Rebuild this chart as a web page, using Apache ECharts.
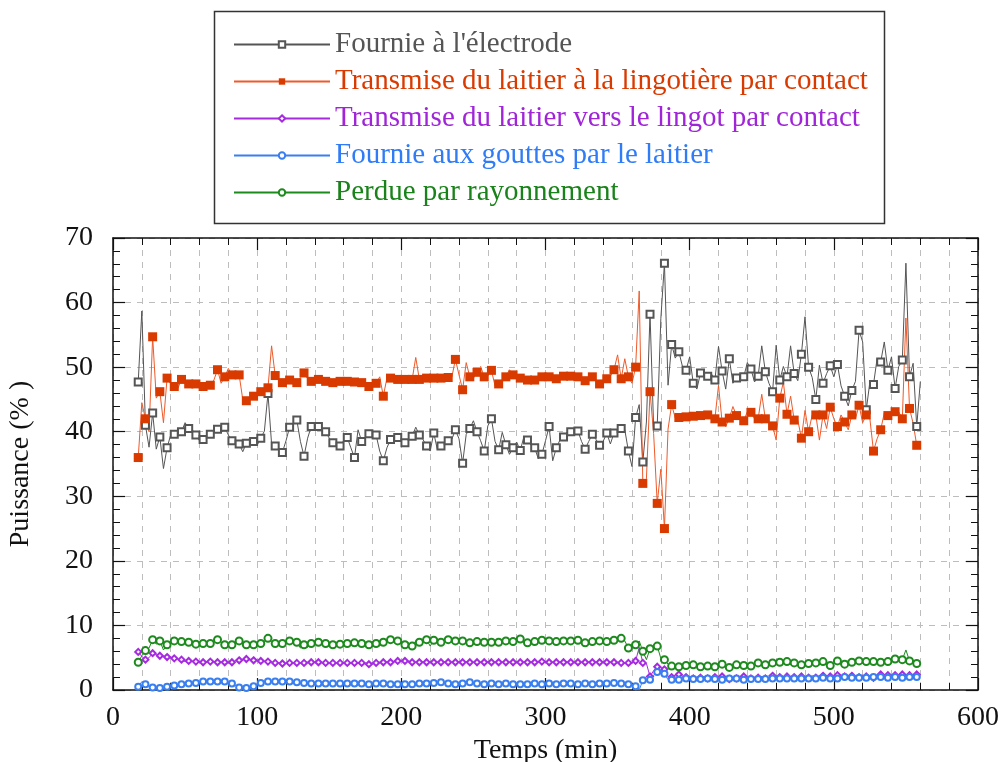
<!DOCTYPE html>
<html>
<head>
<meta charset="utf-8">
<script src="https://cdn.jsdelivr.net/npm/echarts@6/dist/echarts.min.js"></script>
<style>
  html, body { margin: 0; padding: 0; background: #fff; }
  #chart { width: 1006px; height: 762px; }
</style>
</head>
<body>
<div id="chart"></div>
<script>
// sampling instants (min), one every 2.5 min from 17.5 to 560
const T0 = 17.5, DT = 2.5, NPTS = 218;
const temps = [];
for (let i = 0; i < NPTS; i++) temps.push(T0 + DT * i);

const noms = [
  "Fournie à l'électrode",
  'Transmise du laitier à la lingotière par contact',
  'Transmise du laitier vers le lingot par contact',
  'Fournie aux gouttes par le laitier',
  'Perdue par rayonnement'
];

// Puissance (%)
const electrode = [
  47.7, 58.7, 41.0, 37.6, 42.9, 37.3, 39.2, 34.3, 37.5, 39.5,
  39.6, 39.4, 40.0, 41.4, 40.5, 40.3, 39.5, 38.6, 38.8, 39.0,
  39.6, 40.2, 40.4, 39.8, 40.7, 39.5, 38.6, 38.8, 38.1, 36.9,
  38.2, 39.1, 38.5, 37.9, 39.0, 40.1, 45.9, 38.1, 37.8, 37.3,
  36.8, 38.6, 40.7, 41.3, 41.8, 38.5, 36.2, 39.0, 40.8, 40.5,
  40.8, 40.2, 40.0, 39.0, 38.3, 38.0, 37.8, 38.6, 39.1, 37.5,
  36.0, 40.3, 38.5, 39.2, 39.7, 40.0, 39.5, 37.0, 35.5, 37.5,
  38.8, 38.5, 39.1, 38.8, 38.3, 38.8, 39.3, 40.7, 39.5, 38.8,
  37.8, 37.0, 39.8, 37.2, 37.8, 38.2, 38.6, 38.8, 40.3, 38.9,
  35.1, 39.6, 40.5, 41.7, 40.0, 38.6, 37.0, 40.9, 42.0, 38.5,
  37.2, 39.9, 38.0, 36.5, 37.5, 38.4, 37.1, 39.2, 38.7, 37.9,
  37.5, 35.8, 36.5, 38.6, 40.8, 35.5, 37.5, 38.7, 39.2, 40.0,
  40.0, 39.5, 40.1, 38.5, 37.3, 38.5, 39.6, 38.8, 37.9, 38.5,
  39.8, 38.1, 39.8, 40.0, 40.5, 40.3, 37.0, 34.6, 42.2, 44.2,
  35.3, 41.5, 58.2, 40.7, 40.9, 57.5, 66.1, 47.2, 53.5, 51.4,
  52.4, 50.1, 49.5, 51.6, 47.5, 46.6, 49.1, 48.6, 48.6, 49.0,
  48.0, 53.2, 49.4, 46.6, 51.3, 47.5, 48.3, 49.0, 48.5, 50.7,
  49.7, 47.7, 48.6, 53.3, 49.3, 47.5, 46.2, 53.4, 48.0, 50.1,
  48.5, 53.3, 49.0, 47.9, 52.0, 57.8, 50.0, 48.4, 45.0, 50.3,
  47.5, 49.0, 50.2, 48.5, 50.4, 47.1, 45.5, 44.0, 46.4, 47.8,
  55.7, 53.9, 43.4, 47.7, 47.3, 51.3, 50.8, 53.9, 49.5, 51.6,
  46.7, 50.1, 51.1, 66.1, 48.5, 50.6, 40.8, 47.8
];

const lingotiere = [
  36.0, 44.5, 42.0, 40.0, 54.7, 45.2, 46.2, 41.4, 48.3, 47.4,
  47.0, 46.7, 48.1, 47.8, 47.4, 47.2, 47.4, 47.0, 47.0, 47.2,
  47.2, 48.0, 49.6, 47.5, 48.5, 49.8, 48.8, 48.8, 48.8, 45.0,
  44.8, 45.2, 45.5, 45.8, 46.2, 46.5, 46.8, 53.3, 48.7, 48.0,
  47.6, 47.8, 48.0, 47.8, 47.6, 48.4, 49.1, 48.2, 47.8, 48.0,
  48.1, 47.9, 47.8, 47.7, 47.6, 47.8, 47.8, 47.8, 47.8, 47.7,
  47.7, 47.6, 47.6, 47.5, 47.0, 46.9, 47.5, 48.5, 45.5, 48.3,
  48.3, 48.2, 48.1, 48.1, 48.1, 48.1, 48.1, 51.5, 48.1, 48.1,
  48.3, 48.5, 48.3, 48.1, 48.3, 48.5, 48.4, 48.4, 51.2, 48.8,
  46.5, 50.7, 48.5, 48.3, 49.2, 50.1, 48.5, 48.7, 49.5, 47.1,
  47.4, 47.7, 48.5, 49.6, 48.8, 48.1, 48.3, 48.5, 48.0, 47.7,
  48.0, 48.5, 48.5, 48.5, 48.5, 48.3, 48.2, 48.4, 48.6, 48.6,
  48.6, 48.5, 48.5, 48.2, 47.9, 48.2, 48.5, 48.0, 47.4, 47.8,
  48.2, 48.6, 49.6, 51.9, 48.2, 51.3, 48.5, 47.5, 50.0, 61.8,
  32.0, 32.7, 46.2, 39.7, 28.9, 34.2, 25.0, 40.4, 44.2, 42.1,
  42.2, 41.8, 42.3, 42.0, 42.4, 41.9, 42.5, 42.2, 42.6, 42.0,
  42.0, 47.2, 41.5, 40.8, 42.1, 43.9, 42.5, 41.9, 41.7, 43.1,
  43.0, 42.0, 42.0, 45.8, 42.0, 41.5, 40.9, 38.7, 45.2, 47.7,
  42.7, 45.5, 41.8, 41.8, 39.0, 43.3, 40.0, 42.6, 42.6, 38.7,
  42.6, 40.5, 43.8, 42.0, 40.8, 42.6, 41.5, 40.3, 42.6, 42.0,
  44.1, 41.4, 42.6, 42.0, 37.0, 38.9, 40.3, 42.9, 42.5, 43.1,
  43.1, 43.1, 42.0, 57.6, 43.6, 41.3, 37.9, 37.9
];

const lingot = [
  5.9, 5.2, 4.7, 5.0, 5.7, 5.5, 5.3, 5.2, 5.1, 5.1,
  4.9, 4.8, 4.7, 4.4, 4.5, 4.4, 4.4, 4.4, 4.3, 4.4,
  4.4, 4.4, 4.3, 4.3, 4.3, 4.2, 4.3, 4.5, 4.6, 4.7,
  4.8, 4.7, 4.6, 4.6, 4.5, 4.4, 4.4, 4.3, 4.2, 4.2,
  4.1, 4.1, 4.2, 4.2, 4.2, 4.2, 4.2, 4.3, 4.3, 4.3,
  4.3, 4.3, 4.2, 4.2, 4.2, 4.2, 4.2, 4.2, 4.2, 4.2,
  4.2, 4.2, 4.2, 4.2, 4.0, 4.2, 4.2, 4.3, 4.3, 4.3,
  4.3, 4.4, 4.5, 4.6, 4.5, 4.4, 4.3, 4.3, 4.3, 4.3,
  4.3, 4.3, 4.3, 4.3, 4.3, 4.4, 4.3, 4.3, 4.3, 4.3,
  4.3, 4.4, 4.3, 4.3, 4.3, 4.3, 4.3, 4.4, 4.3, 4.3,
  4.3, 4.3, 4.3, 4.3, 4.3, 4.3, 4.3, 4.3, 4.3, 4.3,
  4.3, 4.3, 4.4, 4.3, 4.3, 4.3, 4.3, 4.3, 4.3, 4.3,
  4.3, 4.3, 4.3, 4.3, 4.3, 4.3, 4.3, 4.3, 4.3, 4.3,
  4.3, 4.3, 4.3, 4.3, 4.2, 4.2, 4.2, 4.2, 4.5, 6.6,
  4.2, 4.1, 2.1, 3.0, 3.6, 3.5, 3.2, 2.1, 2.0, 2.3,
  2.4, 2.2, 2.0, 2.1, 1.8, 2.0, 1.9, 2.1, 1.8, 1.9,
  2.0, 1.8, 2.1, 1.9, 1.7, 2.0, 1.8, 2.0, 2.1, 1.9,
  1.8, 2.0, 1.9, 2.1, 1.8, 1.9, 2.2, 1.9, 2.0, 1.8,
  2.1, 1.9, 2.0, 1.8, 2.1, 2.0, 1.9, 2.2, 1.9, 2.0,
  2.2, 1.9, 2.1, 2.0, 2.3, 1.9, 2.1, 2.0, 2.2, 2.1,
  2.0, 2.3, 2.1, 2.2, 1.9, 2.2, 2.4, 2.1, 2.3, 2.2,
  2.3, 2.1, 2.4, 2.2, 2.3, 2.1, 2.4, 2.1
];

const gouttes = [
  0.5, 1.3, 0.9, 0.6, 0.4, 0.3, 0.3, 0.3, 0.5, 0.6,
  0.7, 0.8, 0.9, 0.9, 1.0, 1.0, 1.1, 1.2, 1.3, 1.3,
  1.3, 1.3, 1.3, 1.3, 1.3, 1.2, 1.0, 0.7, 0.4, 0.4,
  0.3, 0.3, 0.6, 0.8, 1.1, 1.3, 1.3, 1.3, 1.3, 1.3,
  1.3, 1.3, 1.3, 1.2, 1.2, 1.1, 1.1, 1.0, 1.0, 1.0,
  1.0, 1.0, 1.0, 1.0, 1.0, 1.1, 1.0, 1.0, 1.0, 1.0,
  1.0, 1.0, 1.0, 0.9, 0.9, 1.0, 1.0, 1.0, 1.0, 0.9,
  0.9, 0.8, 0.9, 1.0, 0.9, 0.9, 0.9, 1.0, 1.0, 1.0,
  1.0, 1.0, 1.1, 1.2, 1.2, 1.1, 1.0, 1.0, 0.9, 1.0,
  1.0, 1.1, 1.2, 1.1, 1.0, 1.0, 0.9, 0.9, 1.0, 1.0,
  0.9, 0.9, 1.0, 1.0, 0.9, 0.8, 0.9, 0.9, 0.9, 1.0,
  1.0, 1.0, 0.9, 0.9, 1.0, 1.0, 0.9, 0.9, 1.0, 1.0,
  1.0, 1.0, 0.9, 0.9, 1.0, 1.0, 0.9, 1.0, 1.0, 1.0,
  1.0, 1.1, 1.1, 1.0, 1.0, 1.0, 0.9, 0.8, 0.6, 0.0,
  1.5, 2.1, 1.6, 2.3, 2.8, 3.6, 2.5, 1.6, 1.6, 1.7,
  1.6, 1.7, 1.8, 1.6, 1.7, 1.8, 1.7, 1.6, 1.8, 1.7,
  1.7, 1.8, 1.6, 1.7, 1.8, 1.7, 1.8, 1.7, 1.6, 1.8,
  1.7, 1.8, 1.7, 1.8, 1.7, 1.9, 1.8, 1.7, 1.8, 1.8,
  1.8, 1.7, 1.8, 1.9, 1.8, 1.7, 1.8, 1.9, 1.8, 1.8,
  1.9, 1.8, 1.8, 1.9, 1.8, 1.9, 2.0, 1.8, 1.9, 1.9,
  1.9, 2.0, 1.9, 1.8, 2.0, 1.9, 2.0, 2.1, 1.9, 2.0,
  2.0, 2.1, 1.9, 2.2, 2.0, 2.1, 2.0, 1.9
];

const rayonnement = [
  4.3, 5.3, 6.1, 6.5, 7.8, 7.1, 7.6, 6.2, 7.0, 7.6,
  7.6, 7.5, 7.5, 7.7, 7.4, 7.0, 7.1, 7.2, 7.2, 7.3,
  7.2, 7.5, 7.8, 7.4, 7.0, 6.9, 7.0, 7.3, 7.6, 7.2,
  7.0, 7.0, 7.0, 7.1, 7.2, 7.5, 8.0, 7.4, 7.2, 7.2,
  7.2, 7.4, 7.6, 7.7, 7.4, 6.5, 7.0, 6.6, 7.2, 7.6,
  7.4, 7.2, 7.2, 7.2, 7.0, 7.0, 7.1, 7.3, 7.2, 7.2,
  7.3, 7.4, 7.2, 7.2, 7.0, 7.5, 7.2, 6.8, 7.4, 7.5,
  7.8, 7.4, 7.6, 7.5, 7.0, 7.3, 6.8, 7.6, 7.4, 7.6,
  7.8, 6.8, 7.7, 7.4, 7.4, 7.6, 7.8, 7.4, 7.6, 7.4,
  7.6, 7.4, 7.3, 7.4, 7.5, 7.3, 7.4, 7.5, 7.4, 7.6,
  7.4, 7.5, 7.6, 7.4, 7.5, 7.7, 7.9, 7.4, 7.3, 7.6,
  7.5, 7.6, 7.7, 7.5, 7.6, 7.8, 7.5, 7.4, 7.6, 7.5,
  7.6, 7.4, 7.7, 7.5, 7.3, 7.6, 7.5, 7.4, 7.6, 7.5,
  7.5, 7.6, 7.7, 7.9, 8.0, 7.6, 6.5, 7.2, 7.0, 7.6,
  6.0, 4.7, 6.4, 6.7, 6.8, 4.9, 4.7, 4.0, 3.7, 3.9,
  3.6, 3.9, 3.8, 3.7, 3.9, 3.8, 3.6, 3.9, 3.7, 3.8,
  3.6, 3.9, 4.0, 3.7, 3.5, 3.8, 3.9, 3.6, 3.8, 4.0,
  3.7, 3.9, 4.2, 3.8, 3.9, 3.7, 4.2, 4.6, 4.3, 4.1,
  4.4, 4.0, 4.2, 3.8, 3.9, 4.3, 4.1, 4.0, 4.2, 3.9,
  4.4, 4.3, 3.8, 4.1, 4.5, 3.9, 4.0, 4.6, 4.3, 4.4,
  4.5, 4.2, 4.4, 4.6, 4.4, 4.5, 4.3, 4.7, 4.4, 4.6,
  4.8, 4.6, 4.7, 6.2, 4.5, 4.4, 4.1, 3.7
];

const valeurs = [electrode, lingotiere, lingot, gouttes, rayonnement];
const couleursTexte = ['#555555', '#d93a00', '#a024d8', '#2f7cf6', '#1a821a'];
const couleursLigne = ['#555555', '#ee5a2a', '#a52ae0', '#3a7ff0', '#1d8a1d'];
const symboles = ['emptyRect', 'rect', 'emptyDiamond', 'emptyCircle', 'emptyCircle'];
const tailles = [7, 9, 6, 6, 7];

const FONT = 'Liberation Serif';

function serie(k) {
  return {
    name: noms[k],
    type: 'line',
    data: temps.map((t, i) => [t, valeurs[k][i]]),
    symbol: symboles[k],
    symbolSize: (v, p) => (p.dataIndex % 2 ? 0 : tailles[k]),
    lineStyle: { color: couleursLigne[k], width: 1 },
    itemStyle: { color: k === 1 ? '#d93a00' : couleursLigne[k], borderWidth: 1 },
    emphasis: { disabled: true },
    animation: false
  };
}

const dash = { color: '#bdbdbd', type: [6, 6], width: 1 };
const axisBase = {
  axisLine: { show: true, onZero: false, lineStyle: { color: '#111', width: 1.5 } },
  axisTick: { show: true, inside: true, length: 12, lineStyle: { color: '#111', width: 1.2 } },
  minorTick: { show: true, splitNumber: 5, length: 7, lineStyle: { color: '#111', width: 1 } }
};

const chart = echarts.init(document.getElementById('chart'), null, { renderer: 'canvas' });
chart.setOption({
  backgroundColor: '#fff',
  animation: false,
  grid: { left: 113, right: 28, top: 238, bottom: 72, containLabel: false, outerBoundsMode: 'none' },
  legend: {
    orient: 'vertical', left: 228, top: 25,
    itemWidth: 96, itemHeight: 8, itemGap: 8,
    selectedMode: false,
    textStyle: { fontFamily: FONT, fontSize: 29 },
    data: noms.map((n, i) => ({ name: n, textStyle: { color: couleursTexte[i] } }))
  },
  graphic: [{
    type: 'rect', left: 212, top: 9,
    shape: { width: 670, height: 212 },
    style: { fill: 'none', stroke: '#333', lineWidth: 1.5 },
    silent: true
  }],
  xAxis: [
    Object.assign({}, axisBase, {
      type: 'value', min: 0, max: 600, interval: 100, position: 'bottom',
      name: 'Temps (min)', nameLocation: 'middle', nameGap: 44,
      nameTextStyle: { fontFamily: FONT, fontSize: 28, color: '#111' },
      axisLabel: { fontFamily: FONT, fontSize: 28, color: '#111', margin: 14 },
      splitLine: { show: true, lineStyle: dash },
      minorSplitLine: { show: true, lineStyle: dash }
    }),
    Object.assign({}, axisBase, {
      type: 'value', min: 0, max: 600, interval: 100, position: 'top',
      axisLabel: { show: false }, splitLine: { show: false }
    })
  ],
  yAxis: [
    Object.assign({}, axisBase, {
      type: 'value', min: 0, max: 70, interval: 10, position: 'left',
      name: 'Puissance (% )', nameLocation: 'middle', nameGap: 78,
      nameTextStyle: { fontFamily: FONT, fontSize: 28, color: '#111' },
      axisLabel: { fontFamily: FONT, fontSize: 28, color: '#111', margin: 20 },
      splitLine: { show: true, lineStyle: dash }
    }),
    Object.assign({}, axisBase, {
      type: 'value', min: 0, max: 70, interval: 10, position: 'right',
      axisLabel: { show: false }, splitLine: { show: false }
    })
  ],
  series: [0, 1, 2, 3, 4].map(serie)
});
</script>
</body>
</html>
